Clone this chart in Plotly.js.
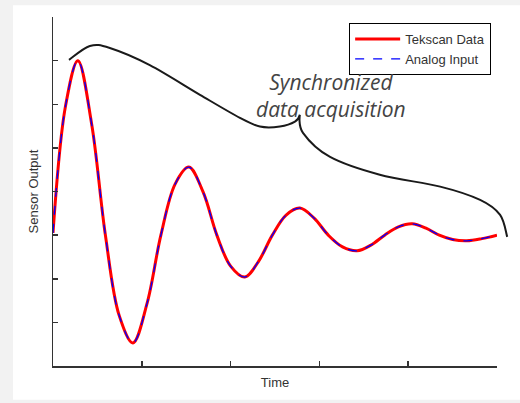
<!DOCTYPE html>
<html>
<head>
<meta charset="utf-8">
<script src="https://cdn.plot.ly/plotly-3.0.1.min.js"></script>
<style>html,body{margin:0;padding:0;background:#f2f2f2;}#chart{width:520px;height:403px;}</style>
</head>
<body>
<div id="chart"></div>
<script>
// Time samples and sensor output (arbitrary units)
const time = [0, 0.28, 0.56, 0.87, 1.18, 1.49, 1.8, 2.12, 2.43, 2.75, 3.06, 3.38, 3.69, 4.0, 4.32, 4.63, 4.94, 5.25, 5.56, 5.88, 6.2, 6.52, 6.85, 7.16, 7.47, 7.78, 8.09, 8.4, 8.7, 9.0, 9.32, 9.66, 10];
const tekscan = [3.05, 5.95, 7.0, 5.55, 3.0, 1.16, 0.53, 1.44, 3.0, 4.17, 4.56, 3.99, 3.0, 2.29, 2.04, 2.4, 3.0, 3.46, 3.62, 3.39, 3.0, 2.73, 2.64, 2.77, 3.0, 3.19, 3.26, 3.16, 3.0, 2.9, 2.87, 2.92, 3.0];
const analog = [3.05, 5.95, 7.0, 5.55, 3.0, 1.16, 0.53, 1.44, 3.0, 4.17, 4.56, 3.99, 3.0, 2.29, 2.04, 2.4, 3.0, 3.46, 3.62, 3.39, 3.0, 2.73, 2.64, 2.77, 3.0, 3.19, 3.26, 3.16, 3.0, 2.9, 2.87, 2.92, 3.0];
const seriesNames = ['Tekscan Data', 'Analog Input'];
const xTicks = [0, 2, 4, 6, 8, 10];
const yTicks = [0, 1, 2, 3, 4, 5, 6, 7, 8];

// Decorative brace outline (paper coordinates)
const brace = [[0.036,0.877],[0.083,0.917],[0.128,0.911],[0.218,0.862],[0.331,0.777],[0.421,0.711],[0.466,0.686],[0.511,0.686],[0.545,0.70],[0.556,0.72],[0.563,0.668],[0.624,0.599],[0.736,0.548],[0.872,0.514],[0.962,0.476],[1.007,0.433],[1.023,0.37]];
function smoothPath(p){
  let d = 'M' + p[0][0] + ',' + p[0][1];
  for (let i = 0; i < p.length - 1; i++) {
    const p0 = p[Math.max(i-1,0)], p1 = p[i], p2 = p[i+1], p3 = p[Math.min(i+2,p.length-1)];
    const sharp1 = (i === 9), sharp2 = (i+1 === 9);
    const c1 = sharp1 ? p1 : [p1[0] + (p2[0]-p0[0])/6, p1[1] + (p2[1]-p0[1])/6];
    const c2 = sharp2 ? p2 : [p2[0] - (p3[0]-p1[0])/6, p2[1] - (p3[1]-p1[1])/6];
    d += ' C' + c1[0] + ',' + c1[1] + ' ' + c2[0] + ',' + c2[1] + ' ' + p2[0] + ',' + p2[1];
  }
  return d;
}

const traces = [
  {x: time, y: tekscan, name: seriesNames[0], type: 'scatter', mode: 'lines',
   line: {color: '#ff0000', width: 3, shape: 'spline', smoothing: 1}},
  {x: time, y: analog, name: seriesNames[1], type: 'scatter', mode: 'lines',
   line: {color: '#0000ff', width: 1.3, dash: 'dash', shape: 'spline', smoothing: 1}}
];

const axisCommon = {
  showgrid: false, zeroline: false, showline: true, linecolor: '#333', linewidth: 1.5,
  ticks: 'inside', ticklen: 5, tickwidth: 1.5, tickcolor: '#333', showticklabels: false,
  tickmode: 'array', fixedrange: true
};

const layout = {
  width: 520, height: 403,
  margin: {l: 53, r: 23, t: 17, b: 37},
  paper_bgcolor: '#f2f2f2', plot_bgcolor: 'rgba(0,0,0,0)',
  font: {family: 'Liberation Sans, Arial, sans-serif', color: '#333', size: 13},
  xaxis: Object.assign({}, axisCommon, {range: [0, 10], tickvals: xTicks, mirror: false,
    title: {text: 'Time', font: {size: 13, color: '#333'}, standoff: 11}}),
  yaxis: Object.assign({}, axisCommon, {range: [0, 8], tickvals: yTicks,
    title: {text: 'Sensor Output', font: {size: 13, color: '#333'}, standoff: 10}}),
  showlegend: true,
  legend: {x: 0.667, y: 0.983, xanchor: 'left', yanchor: 'top', bgcolor: '#fff',
    bordercolor: '#000', borderwidth: 1, font: {size: 13, color: '#333'},
    tracegroupgap: 0, itemwidth: 45},
  shapes: [
    {type: 'rect', xref: 'paper', yref: 'paper', x0: -0.09, x1: 1.06, y0: -0.097, y1: 1.034,
     fillcolor: '#ffffff', line: {width: 0}, layer: 'below'},
    {type: 'path', xref: 'paper', yref: 'paper', path: smoothPath(brace),
     line: {color: '#1a1a1a', width: 2}, layer: 'above'}
  ],
  annotations: [
    {xref: 'paper', yref: 'paper', x: 0.626, y: 0.86, showarrow: false,
     text: '<i>Synchronized<br>data acquisition</i>', align: 'center',
     font: {family: 'Open Sans, sans-serif', size: 21, color: '#444'}}
  ]
};

Plotly.newPlot('chart', traces, layout, {displayModeBar: false, staticPlot: true});
</script>
</body>
</html>
